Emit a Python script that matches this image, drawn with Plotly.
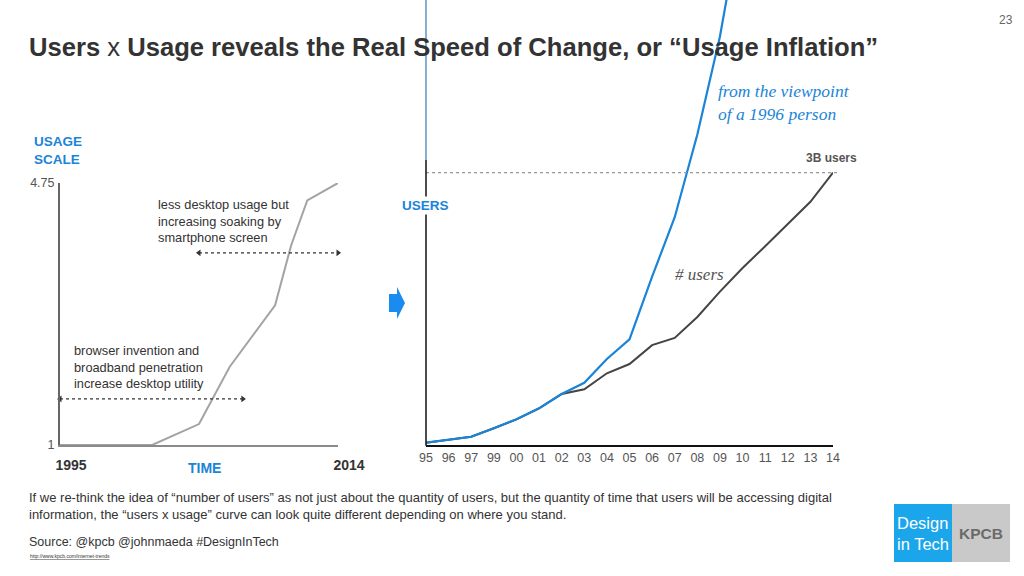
import plotly.graph_objects as go

W, H = 1024, 576
def px(x): return x / W
def py(y): return 1 - y / H

# ---- data ----
usage_years = [1995, 2001.3, 2004.5, 2006.6, 2009.7, 2010.8, 2011.9, 2014]
usage_scale = [1.0, 1.0, 1.30, 2.12, 3.00, 3.86, 4.50, 4.75]
usage_ticks = [1, 4.75]
usage_ticktext = ["1", "4.75"]
time_ticks = [1995, 2014]
time_ticktext = ["<b>1995</b>", "<b>2014</b>"]

years = ["95", "96", "97", "99", "00", "01", "02", "03", "04", "05",
         "06", "07", "08", "09", "10", "11", "12", "13", "14"]
users_b = [0.025, 0.055, 0.091, 0.184, 0.283, 0.404, 0.562, 0.614, 0.790, 0.892,
           1.10, 1.18, 1.41, 1.69, 1.95, 2.19, 2.43, 2.68, 3.00]
users_x_usage = [0.025, 0.055, 0.091, 0.184, 0.283, 0.404, 0.562, 0.686, 0.947, 1.165,
                 1.854, 2.51, 3.42, 4.50, 5.90]
years_uxu = years[:len(users_x_usage)]
three_b = 3.0

BLUE = "#1a84d8"
SANS = "Liberation Sans, Arial, sans-serif"
SERIF = "Liberation Serif, Times New Roman, serif"

fig = go.Figure()

fig.add_trace(go.Scatter(x=usage_years, y=usage_scale, mode="lines",
                         line=dict(color="#a3a3a3", width=2), xaxis="x", yaxis="y",
                         showlegend=False, hoverinfo="skip"))
fig.add_trace(go.Scatter(x=years, y=users_b, mode="lines",
                         line=dict(color="#444444", width=2), xaxis="x2", yaxis="y2",
                         showlegend=False))
fig.add_trace(go.Scatter(x=years_uxu, y=users_x_usage, mode="lines",
                         line=dict(color=BLUE, width=2.2), xaxis="x2", yaxis="y2",
                         showlegend=False))

for (x0, x1, yv) in [(1995, 2007.5, 1.66), (2004.5, 2014, 3.75)]:
    fig.add_trace(go.Scatter(x=[x0, x1], y=[yv, yv], mode="lines+markers",
                             line=dict(color="#333333", width=1.2, dash="dot"),
                             marker=dict(symbol=["triangle-left", "triangle-right"], size=6,
                                         color="#333333"),
                             xaxis="x", yaxis="y", showlegend=False, hoverinfo="skip",
                             cliponaxis=False))

fig.update_layout(
    template="none",
    width=W, height=H, autosize=False,
    margin=dict(l=0, r=0, t=0, b=0, pad=0, autoexpand=False),
    paper_bgcolor="white", plot_bgcolor="white",
    font=dict(family=SANS, color="#444"),
    xaxis=dict(domain=[px(60), px(338)], range=[1995, 2014], showgrid=False, zeroline=False,
               automargin=False,
               showline=True, linecolor="#8a8a8a", linewidth=2,
               tickvals=time_ticks, ticktext=time_ticktext, ticks="",
               tickfont=dict(size=14, color="#333", family=SANS), ticklabelshift=11,
               ticklabelstandoff=6),
    yaxis=dict(domain=[py(445), py(183)], range=[1, 4.75], showgrid=False, zeroline=False,
               automargin=False,
               showline=True, linecolor="#666", linewidth=2,
               tickvals=usage_ticks, ticktext=usage_ticktext, ticks="",
               tickfont=dict(size=12.5, color="#555"), ticklabelstandoff=1),
    xaxis2=dict(domain=[px(426), px(833)], type="category", categoryorder="array",
                categoryarray=years, range=[0, 18], showgrid=False, zeroline=False,
                automargin=False,
                showline=True, linecolor="#111", linewidth=1.5, ticks="",
                tickfont=dict(size=12.5, color="#555"), anchor="y2"),
    yaxis2=dict(domain=[py(445), 1.0], range=[0, 445 * 3.0 / 272.3], showgrid=False,
                automargin=False,
                zeroline=False, showline=False,
                showticklabels=False, ticks="", anchor="x2"),
)

shapes = []
shapes.append(dict(type="line", xref="x2 domain", yref="y2", x0=0, x1=1.012,
                   y0=three_b, y1=three_b, line=dict(color="#999", width=1.3, dash="dot")))
shapes.append(dict(type="line", xref="x2 domain", yref="paper", x0=0, x1=0,
                   y0=py(445.7), y1=py(160), line=dict(color="#111", width=1.5)))
shapes.append(dict(type="line", xref="x2 domain", yref="paper", x0=0, x1=0,
                   y0=py(160), y1=1.0, line=dict(color="#2f7db5", width=1.2)))
pts = [(389, 294), (397, 294), (397, 287), (405, 303), (397, 319), (397, 312), (389, 312)]
path = "M " + " L ".join(f"{px(a):.5f},{py(b):.5f}" for a, b in pts) + " Z"
shapes.append(dict(type="path", xref="paper", yref="paper", path=path,
                   fillcolor="#1a8cf0", line=dict(width=0)))
shapes.append(dict(type="rect", xref="paper", yref="paper", x0=px(894), x1=px(952),
                   y0=py(562), y1=py(504), fillcolor="#1ba6ec", line=dict(width=0)))
shapes.append(dict(type="rect", xref="paper", yref="paper", x0=px(952), x1=px(1010),
                   y0=py(562), y1=py(504), fillcolor="#c9c9c9", line=dict(width=0)))
fig.update_layout(shapes=shapes)

ann = []
def t(x, y, text, size=12, color="#333", xanchor="left", family=SANS, bg=None, yanchor="middle"):
    d = dict(xref="paper", yref="paper", x=px(x), y=py(y), text=text, showarrow=False,
             xanchor=xanchor, yanchor=yanchor, align="left",
             font=dict(size=size, color=color, family=family))
    if bg:
        d["bgcolor"] = bg
        d["borderpad"] = 1
    ann.append(d)

t(27, 47, "<b>Users</b> x <b>Usage reveals the Real Speed of Change, or \u201cUsage Inflation\u201d</b>",
  size=25.6, color="#333")
t(1015, 20, "23", size=12, color="#666", xanchor="right")
t(32, 150, "<b>USAGE<br>SCALE</b>", size=13.5, color=BLUE)
t(204, 468, "<b>TIME</b>", size=14, color=BLUE, xanchor="center")
t(156, 221, "less desktop usage but<br>increasing soaking by<br>smartphone screen", size=12.8, color="#333")
t(72, 367, "browser invention and<br>broadband penetration<br>increase desktop utility", size=12.8, color="#333")
t(400, 206, "<b>USERS</b>", size=13.5, color=BLUE, bg="white")
t(831, 158, "<b>3B users</b>", size=12, color="#555", xanchor="center")
t(673, 274, "<i># users</i>", size=17, color="#555", family=SERIF)
t(716, 103, "<i>from the viewpoint<br>of a 1996 person</i>", size=17.5, color=BLUE, family=SERIF)
t(27, 506, "If we re-think the idea of \u201cnumber of users\u201d as not just about the quantity of users, but the quantity of time that users will be accessing digital<br>information, the \u201cusers x usage\u201d curve can look quite different depending on where you stand.",
  size=13, color="#333")
t(27, 542, "Source: @kpcb @johnmaeda #DesignInTech", size=12.5, color="#333")
t(28, 556, "<u>http://www.kpcb.com/internet-trends</u>", size=5, color="#333")
t(923, 533, "Design<br>in Tech", size=16.5, color="white", xanchor="center")
t(981, 533, "<b>KPCB</b>", size=15.5, color="#6a6a6a", xanchor="center")
fig.update_layout(annotations=ann)

fig.write_html("out.html", config={"displayModeBar": False},
               post_script="document.body.style.margin='0';document.body.style.overflow='hidden';")
